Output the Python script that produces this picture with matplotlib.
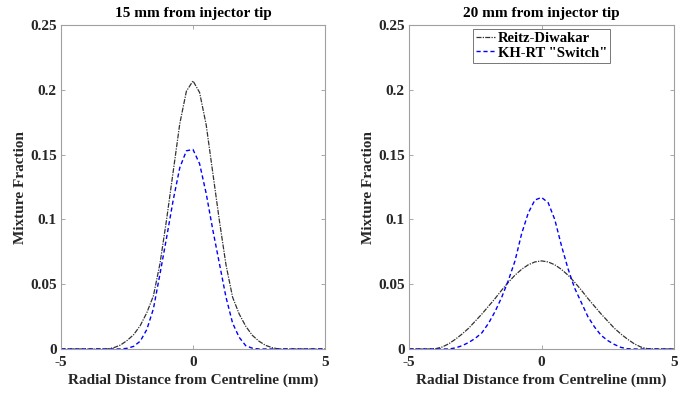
import matplotlib.pyplot as plt
import numpy as np
from matplotlib.ticker import FuncFormatter

# radial positions (mm)
r = [-5.0, -4.75, -4.5, -4.25, -4.0, -3.75, -3.5, -3.25, -3.0, -2.75, -2.5,
     -2.25, -2.0, -1.75, -1.5, -1.25, -1.0, -0.75, -0.5, -0.25, 0.0,
     0.25, 0.5, 0.75, 1.0, 1.25, 1.5, 1.75, 2.0, 2.25, 2.5,
     2.75, 3.0, 3.25, 3.5, 3.75, 4.0, 4.25, 4.5, 4.75, 5.0]

# 15 mm from injector tip
rd_15 = [0, 0, 0, 0, 0, 0, 0, 0, 0.001, 0.003, 0.0065,
         0.011, 0.018, 0.028, 0.041, 0.066, 0.100, 0.137, 0.174, 0.199, 0.207,
         0.198, 0.173, 0.136, 0.099, 0.065, 0.040, 0.027, 0.0175, 0.0105, 0.006,
         0.0028, 0.001, 0, 0, 0, 0, 0, 0, 0, 0]
kh_15 = [0, 0, 0, 0, 0, 0, 0, 0, 0, 0, 0.0005,
         0.002, 0.006, 0.015, 0.031, 0.058, 0.086, 0.115, 0.140, 0.153, 0.154,
         0.143, 0.120, 0.092, 0.066, 0.040, 0.020, 0.009, 0.0025, 0.0006, 0,
         0, 0, 0, 0, 0, 0, 0, 0, 0, 0]

# 20 mm from injector tip
rd_20 = [0, 0, 0, 0, 0.0002, 0.0015, 0.004, 0.0075, 0.0115, 0.016, 0.0215,
         0.027, 0.033, 0.039, 0.0455, 0.0515, 0.057, 0.0615, 0.065, 0.0672, 0.068,
         0.0672, 0.065, 0.0615, 0.057, 0.0515, 0.0455, 0.039, 0.033, 0.027, 0.0215,
         0.016, 0.0115, 0.0075, 0.004, 0.0015, 0.0002, 0, 0, 0, 0]
kh_20 = [0, 0, 0, 0, 0, 0, 0, 0.0008, 0.0025, 0.005, 0.0082,
         0.0125, 0.0198, 0.029, 0.040, 0.053, 0.068, 0.089, 0.105, 0.115, 0.117,
         0.113, 0.100, 0.080, 0.062, 0.047, 0.036, 0.025, 0.017, 0.0105, 0.0065,
         0.0035, 0.0012, 0.0002, 0, 0, 0, 0, 0, 0, 0]

titles = ['15 mm from injector tip', '20 mm from injector tip']
data = [(rd_15, kh_15), (rd_20, kh_20)]

plt.rcParams['font.family'] = ['Liberation Serif', 'DejaVu Serif']
plt.rcParams['font.weight'] = 'bold'
plt.rcParams['axes.unicode_minus'] = False

fig = plt.figure(figsize=(6.91, 3.93), dpi=100)
positions = [[0.0883, 0.112, 0.382, 0.824], [0.5919, 0.112, 0.3835, 0.824]]

for i in range(2):
    ax = fig.add_axes(positions[i])
    rd, kh = data[i]
    ax.plot(r, rd, linestyle=(0, (4, 1, 1, 1)), color='#333333', lw=0.9, label='Reitz-Diwakar')
    ax.plot(r, kh, linestyle=(0, (3, 2)), color='blue', lw=1.0, label='KH-RT "Switch"')
    ax.set_xlim(-5, 5)
    ax.set_ylim(0, 0.25)
    ax.set_xticks([-5, 0, 5])
    ax.set_yticks([0, 0.05, 0.1, 0.15, 0.2, 0.25])
    ax.yaxis.set_major_formatter(FuncFormatter(lambda v, p: '%g' % round(v, 3)))
    ax.tick_params(direction='in', top=True, right=True, length=3, width=0.6,
                   color='#999999', labelsize=11, labelcolor='#262626')
    ax.tick_params(axis='x', pad=5)
    ax.tick_params(axis='y', pad=3)
    for s in ax.spines.values():
        s.set_color('#a0a0a0')
        s.set_linewidth(0.8)
    ax.set_title(titles[i], fontsize=11, fontweight='bold', color='black', pad=6)
    ax.set_xlabel('Radial Distance from Centreline (mm)', fontsize=11,
                  fontweight='bold', color='#262626', labelpad=3)
    ax.set_ylabel('Mixture Fraction', fontsize=11, fontweight='bold',
                  color='#262626', labelpad=2)
    if i == 1:
        leg = ax.legend(loc='upper center', fontsize=10.5, frameon=True, fancybox=False,
                        edgecolor='#555555', handlelength=1.3, handletextpad=0.2,
                        borderpad=0.2, labelspacing=0.1, borderaxespad=0.25)
        leg.get_frame().set_linewidth(0.7)

plt.savefig('out.png', dpi=100)
